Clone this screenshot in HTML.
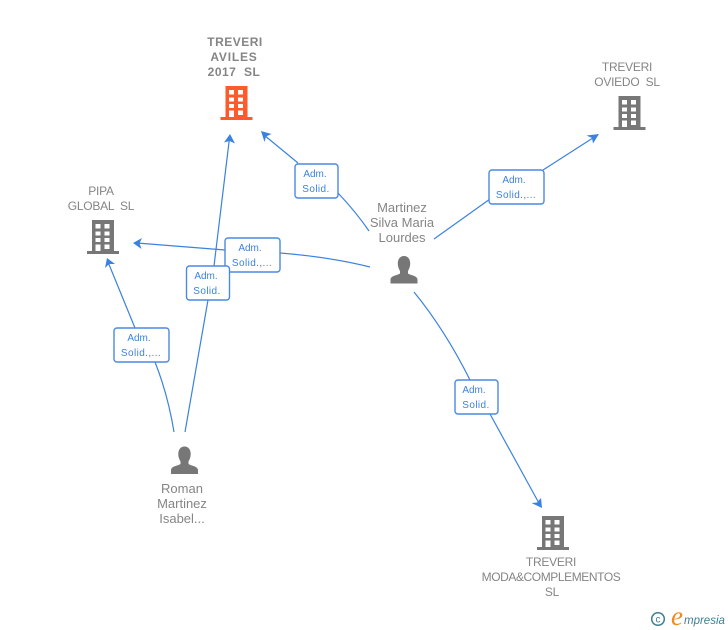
<!DOCTYPE html>
<html>
<head>
<meta charset="utf-8">
<style>
html,body{margin:0;padding:0;background:#fff;width:728px;height:630px;overflow:hidden}
svg{display:block}
text{white-space:pre}
.n{font-family:"Liberation Sans",sans-serif;font-size:12px;letter-spacing:-.25px;fill:#858585;text-anchor:middle}
.p{font-size:13px;letter-spacing:0;fill:#858585}
.b{font-weight:bold;font-size:12px;letter-spacing:.5px}
.l{font-family:"Liberation Sans",sans-serif;font-size:10px;fill:#3b82e0;text-anchor:middle}
.s{letter-spacing:.4px}
.e{fill:none;stroke:#3b82e0;stroke-width:1.2}
.box{fill:#fff;stroke:#4a8ae2;stroke-width:1.4}
.a{fill:#3b82e0}
</style>
</head>
<body>
<svg width="728" height="630" viewBox="0 0 728 630" xmlns="http://www.w3.org/2000/svg">
<defs>
<g id="bld">
<path fill-rule="evenodd" d="M5 0H27V31H32V34H0V31H5ZM8.500 4V8.500H13.500V4ZM17.500 4V8.500H22.500V4ZM8.500 11.500V15.500H13.500V11.500ZM17.500 11.500V15.500H22.500V11.500ZM8.500 18V22H13.500V18ZM17.500 18V22H22.500V18ZM8.500 24.500V31H13.500V24.500ZM17.500 24.500V29H22.500V24.500Z"/>
</g>
<g id="per">
<path d="M14 0C18.200 0 20.200 3.500 20.200 7.500C20.200 11 18.800 13.500 18 15V17.500C21 19.500 27 19.500 27.500 23.500V27.500H0.500V23.500C1 19.500 7 19.500 10 17.500V15C9.200 13.500 7.800 11 7.800 7.500C7.800 3.500 9.800 0 14 0Z"/>
</g>
</defs>

<!-- connectors -->
<path class="e" d="M369 231Q356 212 338 193"/>
<path class="e" d="M298 163L264 135"/>
<path class="a" d="M261 131L271.500 134L266 136.500L264.500 142Z"/>

<path class="e" d="M434 239L490 199"/>
<path class="e" d="M543 170L596 136"/>
<path class="a" d="M599 134L593 143.500L592 138L586.500 135.500Z"/>

<path class="e" d="M370 267Q330 257 280 253"/>
<path class="e" d="M225 250L137 243"/>
<path class="a" d="M133 243L142 238L139.500 243.300L141.500 249Z"/>

<path class="e" d="M414 292Q445 330 470 380"/>
<path class="e" d="M490 414L540 505"/>
<path class="a" d="M542 508L531.500 503L537 502.500L541 498Z"/>

<path class="e" d="M174 432Q168 395 155 362"/>
<path class="e" d="M135 328L108 262"/>
<path class="a" d="M107 258L115 264L109.200 264L105 268Z"/>

<path class="e" d="M185 432L208 300"/>
<path class="e" d="M214 266L229.500 138"/>
<path class="a" d="M230 134L235 143.500L229.500 141L224 142.500Z"/>

<!-- label boxes -->
<rect class="box" x="295" y="164" width="43" height="34" rx="3"/>
<text class="l" x="315" y="177">Adm.</text>
<text class="l s" x="316" y="192">Solid.</text>

<rect class="box" x="489" y="170" width="55" height="34" rx="3"/>
<text class="l" x="514" y="183">Adm.</text>
<text class="l s" x="516" y="198">Solid.,...</text>

<rect class="box" x="225" y="238" width="55" height="34" rx="3"/>
<text class="l" x="250" y="251">Adm.</text>
<text class="l s" x="252" y="266">Solid.,...</text>

<rect class="box" x="186.500" y="266" width="43" height="34" rx="3"/>
<text class="l" x="206" y="279">Adm.</text>
<text class="l s" x="207" y="294">Solid.</text>

<rect class="box" x="114" y="328" width="55" height="34" rx="3"/>
<text class="l" x="139" y="341">Adm.</text>
<text class="l s" x="141" y="356">Solid.,...</text>

<rect class="box" x="455" y="380" width="43" height="34" rx="3"/>
<text class="l" x="474" y="393">Adm.</text>
<text class="l s" x="476" y="408">Solid.</text>

<!-- nodes -->
<use href="#bld" x="220.500" y="86" fill="#ff5a2b"/>
<use href="#bld" x="613.500" y="96" fill="#777"/>
<use href="#bld" x="87" y="220" fill="#777"/>
<use href="#bld" x="537" y="516" fill="#777"/>
<use href="#per" x="390" y="256" fill="#777"/>
<use href="#per" x="170.500" y="446.500" fill="#777"/>

<!-- node labels -->
<text class="n b" x="235" y="46">TREVERI</text>
<text class="n b" x="234" y="61" style="letter-spacing:.8px">AVILES</text>
<text class="n b" x="234" y="76">2017  SL</text>
<text class="n" x="627" y="71">TREVERI</text>
<text class="n" x="627" y="86">OVIEDO  SL</text>
<text class="n" x="101" y="195">PIPA</text>
<text class="n" x="101" y="210">GLOBAL  SL</text>
<text class="n p" x="402" y="212">Martinez</text>
<text class="n p" x="402" y="227">Silva Maria</text>
<text class="n p" x="402" y="242">Lourdes</text>
<text class="n p" x="182" y="493">Roman</text>
<text class="n p" x="182" y="508">Martinez</text>
<text class="n p" x="182" y="523">Isabel...</text>
<text class="n" x="551" y="566">TREVERI</text>
<text class="n" x="551" y="581" style="letter-spacing:-.42px">MODA&amp;COMPLEMENTOS</text>
<text class="n" x="552" y="596">SL</text>

<!-- logo -->
<circle cx="658" cy="619" r="6.300" fill="none" stroke="#3f7f93" stroke-width="1.500"/>
<text x="658" y="622.500" style="font-family:'Liberation Sans',sans-serif;font-size:10px;fill:#3f7f93;text-anchor:middle">c</text>
<text x="671" y="625" style="font-family:'Liberation Serif',serif;font-style:italic;font-size:27px;fill:#f08a1d">e</text>
<text x="684" y="624" style="font-family:'Liberation Sans',sans-serif;font-style:italic;font-size:11.500px;fill:#3f7f93">mpresia</text>
</svg>
</body>
</html>
